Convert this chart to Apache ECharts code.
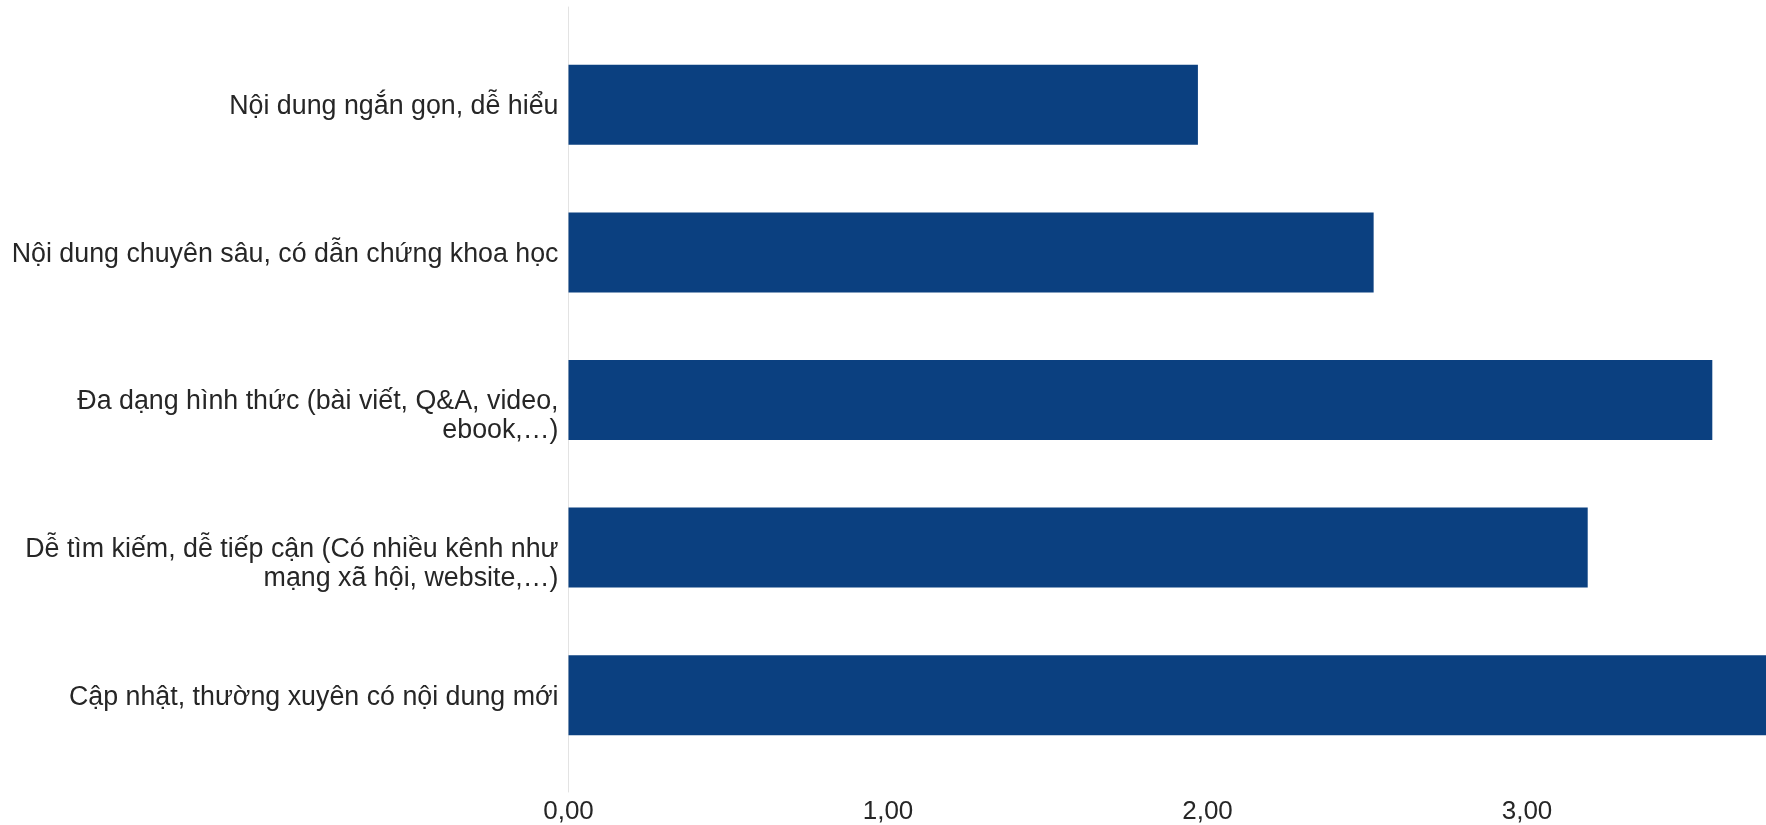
<!DOCTYPE html>
<html>
<head>
<meta charset="utf-8">
<script src="https://cdn.jsdelivr.net/npm/echarts@6/dist/echarts.min.js"></script>
<style>html,body{margin:0;padding:0;background:#fff;overflow:hidden}#c{width:1766px;height:825px}</style>
</head>
<body>
<div id="c"></div>
<script>
const categories = [
  "Nội dung ngắn gọn, dễ hiểu",
  "Nội dung chuyên sâu, có dẫn chứng khoa học",
  "Đa dạng hình thức (bài viết, Q&A, video,\nebook,…)",
  "Dễ tìm kiếm, dễ tiếp cận (Có nhiều kênh như\nmạng xã hội, website,…)",
  "Cập nhật, thường xuyên có nội dung mới"
];
const values = [1.97, 2.52, 3.58, 3.19, 3.85];
const xTicks = { min: 0, max: 4, interval: 1 };

const font = "'Liberation Sans', Arial, sans-serif";
const chart = echarts.init(document.getElementById('c'), null, { renderer: 'canvas' });
chart.setOption({
  animation: false,
  backgroundColor: '#ffffff',
  grid: [
    { left: 568.5, width: 1278, top: 31, bottom: 56, containLabel: false, outerBoundsMode: 'none' },
    { left: 568.5, width: 1, top: 7, bottom: 33, containLabel: false, outerBoundsMode: 'none' }
  ],
  xAxis: [
    {
      type: 'value', gridIndex: 0,
      min: xTicks.min, max: xTicks.max, interval: xTicks.interval,
      axisLine: { show: false }, axisTick: { show: false },
      splitLine: { show: false },
      axisLabel: {
        color: '#262626', fontSize: 26, fontFamily: font, margin: 29.5,
        formatter: v => v.toFixed(2).replace('.', ',')
      }
    },
    { type: 'value', gridIndex: 1, show: false }
  ],
  yAxis: [
    {
      type: 'category', gridIndex: 0, data: categories, inverse: true,
      axisLine: { show: false }, axisTick: { show: false },
      axisLabel: {
        color: '#262626', fontSize: 26.8, fontFamily: font, margin: 10,
        align: 'right', verticalAlign: 'top', lineHeight: 29,
        padding: [-12.5, 0, 0, 0]
      }
    },
    {
      type: 'category', gridIndex: 1, data: ['a'],
      axisLine: { show: true, lineStyle: { color: '#e3e3e3', width: 1 } },
      axisTick: { show: false }, axisLabel: { show: false }
    }
  ],
  series: [{
    type: 'bar', xAxisIndex: 0, yAxisIndex: 0,
    data: values,
    barWidth: 80,
    itemStyle: { color: '#0B4080' }
  }]
});
</script>
</body>
</html>
